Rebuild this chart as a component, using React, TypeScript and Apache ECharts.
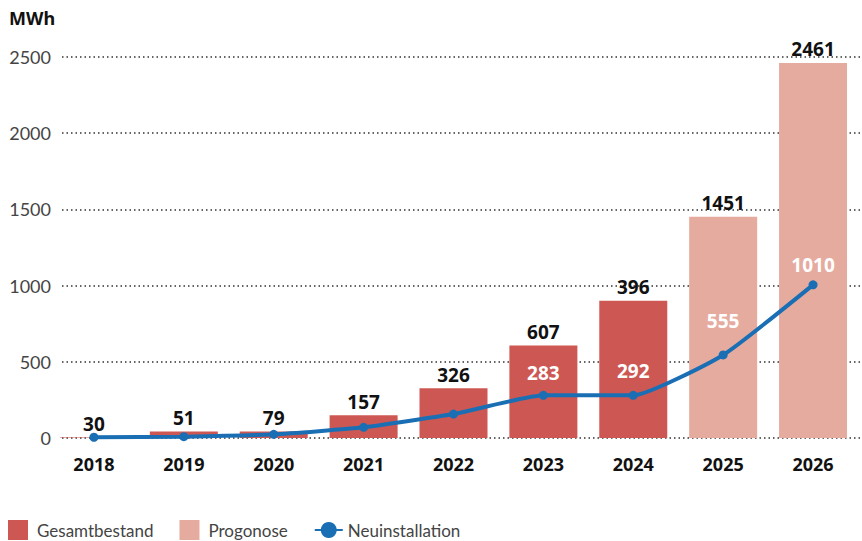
import React, { useEffect, useRef } from "react";
import * as echarts from "echarts";

const years = ["2018", "2019", "2020", "2021", "2022", "2023", "2024", "2025", "2026"];
// Bar heights (as drawn) and the labels printed above them
const gesamtbestand = [4, 42, 42, 150, 326, 607, 900, null, null];
const progonose = [null, null, null, null, null, null, null, 1451, 2461];
const barLabels = ["30", "51", "79", "157", "326", "607", "396", "1451", "2461"];
// Neuinstallation line
const neuinstallation = [5, 9, 24, 70, 157, 280, 280, 545, 1005];
const lineLabels = ["", "", "", "", "", "283", "292", "555", "1010"];

const RED = "#cd5853";
const PINK = "#e6ab9f";
const BLUE = "#1a6fb4";
const FONT = "'Noto Sans', sans-serif";
const LFONT = "Lato, sans-serif";

export default function App() {
  const ref = useRef<HTMLDivElement>(null);
  useEffect(() => {
    if (!ref.current) return;
    const chart = echarts.init(ref.current, undefined, { renderer: "svg" });
    const labelDist = [5, 5, 5, 5, 5, 8, 10, 20, 6];
    const barLabel = {
      show: true,
      position: "top",
      distance: 4,
      fontFamily: FONT,
      fontSize: 19,
      fontWeight: "bold",
      color: "#111",
      formatter: (p: any) => barLabels[p.dataIndex],
    };
    chart.setOption({
      animation: false,
      textStyle: { fontFamily: FONT },
      graphic: [
        {
          type: "text",
          left: 9,
          top: 9,
          style: { text: "MWh", fontFamily: FONT, fontSize: 18, fontWeight: "bold", fill: "#111" },
        },
      ],
      legend: {
        left: 3,
        top: 515,
        itemWidth: 28,
        itemHeight: 20,
        itemGap: 26,
        textStyle: { fontFamily: LFONT, fontSize: 17, color: "#444", lineHeight: 18 },
        data: [
          { name: "Gesamtbestand", icon: "path://M0,0 h20 v20 h-20 Z" },
          { name: "Progonose", icon: "path://M0,0 h20 v20 h-20 Z" },
          { name: "Neuinstallation" },
        ],
      },
      grid: [
        { left: 62, right: 0, top: 57, height: 381 },
        { left: 49, right: 4, top: 57, height: 381 },
      ],
      xAxis: [
        { type: "category", gridIndex: 0, data: years, show: false },
        {
          type: "category",
          gridIndex: 1,
          data: years,
          axisLine: { show: false },
          axisTick: { show: false },
          axisLabel: { margin: 17, fontFamily: FONT, fontSize: 18, fontWeight: "bold", color: "#111" },
        },
      ],
      yAxis: [
        {
          type: "value",
          gridIndex: 0,
          min: 0,
          max: 2500,
          interval: 500,
          axisLine: { show: false },
          axisTick: { show: false },
          axisLabel: {
            margin: 11,
            fontFamily: LFONT,
            fontSize: 18,
            color: "#444",
            formatter: (v: number) => String(v),
          },
          splitLine: { lineStyle: { color: "#333", width: 1.5, type: [1.5, 3] } },
        },
        {
          type: "value",
          gridIndex: 1,
          min: 0,
          max: 2500,
          interval: 500,
          show: false,
          splitLine: { show: false },
        },
      ],
      series: [
        {
          name: "Gesamtbestand",
          type: "bar",
          xAxisIndex: 1,
          yAxisIndex: 1,
          stack: "total",
          barWidth: 68,
          itemStyle: { color: RED },
          label: barLabel,
          data: gesamtbestand.map((v) => (v == null ? "-" : v)),
        },
        {
          name: "Progonose",
          type: "bar",
          xAxisIndex: 1,
          yAxisIndex: 1,
          stack: "total",
          barWidth: 68,
          itemStyle: { color: PINK },
          label: barLabel,
          data: progonose.map((v) => (v == null ? "-" : v)),
        },
        {
          name: "Neuinstallation",
          type: "line",
          xAxisIndex: 1,
          yAxisIndex: 1,
          symbol: "circle",
          symbolSize: 9,
          smooth: 0.15,
          lineStyle: { color: BLUE, width: 4 },
          itemStyle: { color: BLUE },
          z: 5,
          data: neuinstallation.map((v, i) => ({
            value: v,
            label: {
              show: lineLabels[i] !== "",
              position: "top",
              distance: labelDist[i],
              fontFamily: FONT,
              fontSize: 19,
              fontWeight: "bold",
              color: "#fff",
              formatter: () => lineLabels[i],
            },
          })),
        },
      ],
    });
    return () => chart.dispose();
  }, []);
  return <div ref={ref} style={{ width: 862, height: 541, position: "absolute", left: 0, top: 0 }} />;
}
